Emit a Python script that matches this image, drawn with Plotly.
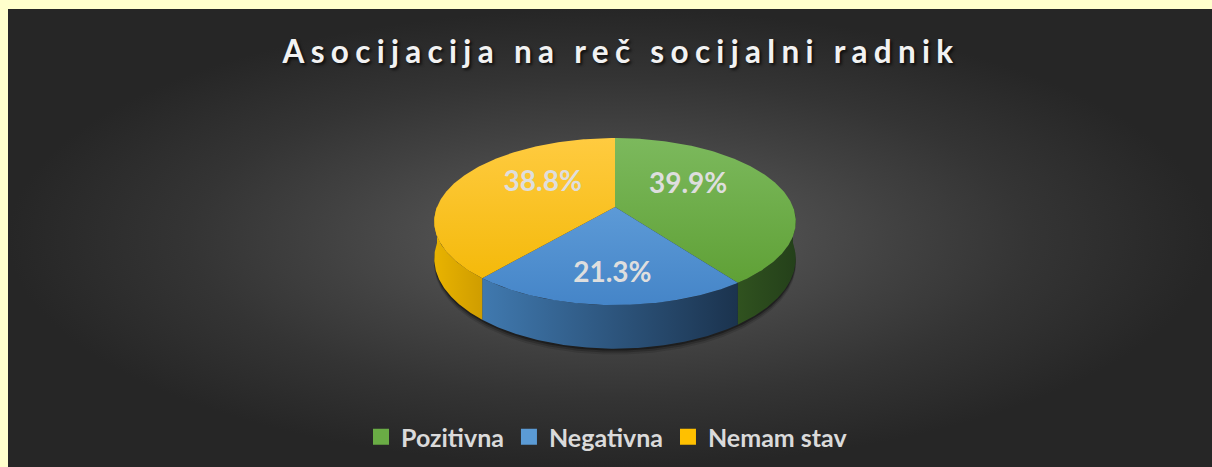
import numpy as np
import plotly.graph_objects as go

# ---------------- data ----------------
categories = ["Pozitivna", "Negativna", "Nemam stav"]
values = [39.9, 21.3, 38.8]
label_texts = ["39.9%", "21.3%", "38.8%"]
title_text = "Asocijacija na reč socijalni radnik"

# ---------------- style ----------------
top_colors = [("#7cb95d", "#5b9d30"), ("#6da9e1", "#4585c8"), ("#ffcb40", "#f2b600")]
side_colors = [("#30521f", "#24401a"), ("#4079af", "#1b334e"), ("#e9b300", "#cf9d00")]
legend_colors = ["#6aac45", "#5b9bd5", "#ffc000"]

W, H_FIG = 1212, 467
CX, CY = 615, 207        # pie centre on screen (px)
RA, RB = 178, 81         # horizontal / depth radii (px)
PERSP = 0.174            # perspective strength
DEPTH = 36               # side-wall height (px)
LX, LY = 77, 68          # label placement radii


def proj(theta_deg):
    t = np.radians(theta_deg)
    X = np.sin(t)
    Z = -np.cos(t)
    w = 1.0 / (1.0 - PERSP * Z)
    return CX + RA * X * w, CY + RB * Z * w, w


fig = go.Figure()

# background with radial gradient
fig.add_trace(go.Scatter(
    x=[8, W, W, 8, 8], y=[9, 9, H_FIG, H_FIG, 9], mode="lines", fill="toself",
    line=dict(width=0, color="rgba(0,0,0,0)"),
    fillgradient=dict(type="radial",
                      colorscale=[[0, "#5b5b5b"], [0.2, "#545454"], [0.34, "#4a4a4a"],
                                  [0.48, "#414141"], [0.7, "#343434"], [1, "#262626"]]),
    hoverinfo="skip", showlegend=False))

total = sum(values)
bounds = np.concatenate([[0], np.cumsum(values) / total * 360.0])

# shadow below the pie
ts = np.linspace(0, 360, 361)
sx, sy, sw = proj(ts)
for off, op in [(6, 0.12), (4, 0.2), (2, 0.35)]:
    fig.add_trace(go.Scatter(
        x=sx, y=sy + DEPTH * sw + off, mode="lines", fill="toself",
        line=dict(width=0, color="rgba(0,0,0,0)"),
        fillcolor=f"rgba(0,0,0,{op})", hoverinfo="skip", showlegend=False))

# side walls (front half only)
for i in range(len(values)):
    a = max(bounds[i], 90.0)
    b = min(bounds[i + 1], 270.0)
    if b <= a:
        continue
    ts = np.linspace(a, b, 120)
    x, y, w = proj(ts)
    xs = np.concatenate([x, x[::-1], x[:1]])
    ys = np.concatenate([y, (y + DEPTH * w)[::-1], y[:1]])
    c1, c2 = side_colors[i]
    fig.add_trace(go.Scatter(
        x=xs, y=ys, mode="lines", fill="toself",
        line=dict(width=0, color="rgba(0,0,0,0)"),
        fillgradient=dict(type="horizontal", colorscale=[[0, c1], [1, c2]]),
        hoverinfo="skip", showlegend=False))

# top faces
ytop = CY - RB / (1 + PERSP)
ybot = CY + RB / (1 - PERSP)
for i in range(len(values)):
    ts = np.linspace(bounds[i], bounds[i + 1], 200)
    x, y, _ = proj(ts)
    xs = np.concatenate([[CX], x, [CX]])
    ys = np.concatenate([[CY], y, [CY]])
    c1, c2 = top_colors[i]
    fig.add_trace(go.Scatter(
        x=xs, y=ys, mode="lines", fill="toself",
        line=dict(width=0, color="rgba(0,0,0,0)"),
        fillgradient=dict(type="vertical", start=ytop, stop=ybot,
                          colorscale=[[0, c1], [1, c2]]),
        hoverinfo="skip", showlegend=False))

# data labels
mids = (bounds[:-1] + bounds[1:]) / 2
lx = CX + LX * np.sin(np.radians(mids))
ly = CY - LY * np.cos(np.radians(mids))
fig.add_trace(go.Scatter(
    x=lx, y=ly, mode="text", text=label_texts, textposition="middle center",
    textfont=dict(family="Lato", size=28, color="#dedede", weight=700),
    hoverinfo="skip", showlegend=False))

# legend entries
for cat, col in zip(categories, legend_colors):
    fig.add_trace(go.Scatter(
        x=[None], y=[None], mode="markers", name=cat,
        marker=dict(symbol="square", size=16, color=col, line=dict(width=0)),
        showlegend=True))

fig.update_layout(
    width=W, height=H_FIG, autosize=False,
    margin=dict(l=0, r=0, t=0, b=0),
    paper_bgcolor="#FFFFCC", plot_bgcolor="#FFFFCC",
    xaxis=dict(range=[0, W], visible=False, fixedrange=True),
    yaxis=dict(range=[H_FIG, 0], visible=False, fixedrange=True),
    title=dict(
        text=f'<span style="letter-spacing:6.3px">{title_text}</span>',
        x=621 / W, xanchor="center", y=1 - 52 / H_FIG, yanchor="middle",
        font=dict(family="Lato", size=31.5, color="#f2f2f2", weight=700,
                  shadow="2px 2px 3px rgba(0,0,0,0.7)")),
    legend=dict(orientation="h", x=607 / W, xanchor="center", y=1 - 437 / H_FIG, yanchor="middle",
                font=dict(family="Lato", size=25, color="#dadada", weight=700),
                bgcolor="rgba(0,0,0,0)", itemclick=False, itemdoubleclick=False),
    showlegend=True,
)

fig.write_html(
    "out.html",
    config={"displayModeBar": False, "staticPlot": True},
    post_script="document.body.style.margin='0';document.body.style.background='#FFFFCC';",
)
